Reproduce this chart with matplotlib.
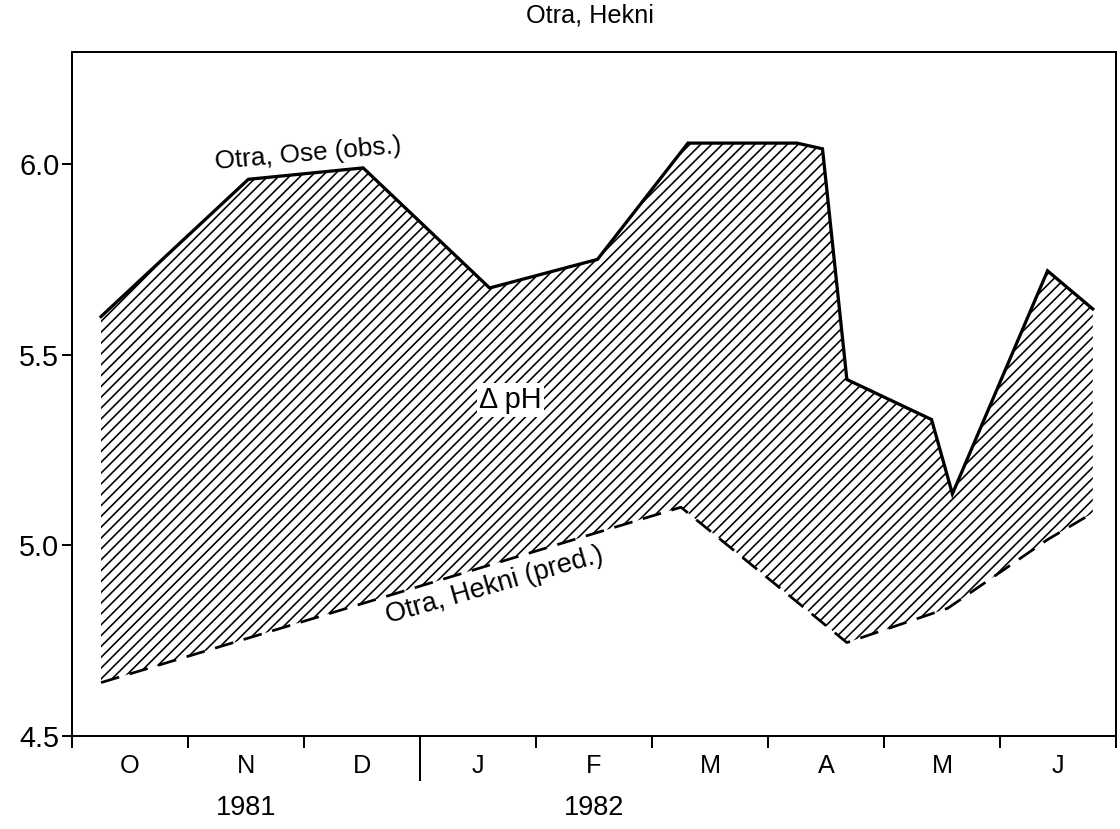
"""
Otra, Hekni: observed pH at Ose vs predicted pH at Hekni, Oct 1981 - Jun 1982.
The hatched band between the two curves is the pH difference.
"""

import matplotlib
matplotlib.use("Agg")
import matplotlib.pyplot as plt

# ── data (x = months since 1 Oct 1981) ──────────────────────────────────────
obs_month = [0.25, 1.52, 2.51, 3.60, 4.53, 5.31, 6.25, 6.47, 6.68, 7.41, 7.59, 8.41, 8.80]
obs_ph = [5.60, 5.96, 5.99, 5.675, 5.75, 6.055, 6.055, 6.04, 5.435, 5.33, 5.135, 5.72, 5.62]

pred_month = [0.25, 5.25, 6.68, 7.55, 8.41, 8.80]
pred_ph = [4.64, 5.10, 4.745, 4.835, 5.015, 5.085]

month_labels = ["O", "N", "D", "J", "F", "M", "A", "M", "J"]
year_labels = ["1981", "1982"]
year_pos = [1.5, 4.5]
y_ticks = [4.5, 5.0, 5.5, 6.0]

DPI = 130
FONT = "Liberation Sans"

plt.rcParams["font.family"] = [FONT, "DejaVu Sans"]
plt.rcParams["hatch.linewidth"] = 0.9

fig = plt.figure(figsize=(1120 / DPI, 829 / DPI), dpi=DPI)
ax = fig.add_axes([0.0643, 0.1122, 0.9321, 0.8251])

# ── hatched delta-pH band ───────────────────────────────────────────────────
poly_x = obs_month + pred_month[::-1]
poly_y = obs_ph + pred_ph[::-1]
ax.fill(poly_x, poly_y, facecolor="none", edgecolor="black", hatch="////", linewidth=0)

ax.plot(obs_month, obs_ph, color="black", linewidth=1.8, solid_joinstyle="miter")
ax.plot(pred_month, pred_ph, color="black", linewidth=1.5, dashes=(7, 4))

# ── annotations ─────────────────────────────────────────────────────────────
ax.text(2.04, 6.026, "Otra, Ose (obs.)", fontsize=14.5, rotation=5,
        ha="center", va="center")
ax.text(3.64, 4.896, "Otra, Hekni (pred.)", fontsize=15, rotation=16,
        ha="center", va="center")
ax.text(3.78, 5.381, "\u0394 pH", fontsize=16, ha="center", va="center",
        bbox=dict(facecolor="white", edgecolor="none", pad=1.5))

fig.text(0.527, 0.981, "Otra, Hekni", fontsize=14, ha="center", va="center")

# ── axes ────────────────────────────────────────────────────────────────────
ax.set_xlim(0, 9)
ax.set_ylim(4.5, 6.294)

ax.set_xticks(range(10))
ax.set_xticklabels([])
ax.set_xticks([i + 0.5 for i in range(9)], minor=True)
ax.set_xticklabels(month_labels, minor=True, fontsize=14)
ax.tick_params(axis="x", which="major", direction="out", length=6.5, width=1.1)
ax.tick_params(axis="x", which="minor", length=0, pad=10)
ax.xaxis.get_major_ticks()[3].tick1line.set_markersize(25)

ax.set_yticks(y_ticks)
ax.set_yticklabels([f"{v:.1f}" for v in y_ticks], fontsize=16)
ax.tick_params(axis="y", direction="out", length=5.5, width=1.1, pad=1.5)

for x, lab in zip(year_pos, year_labels):
    ax.text(x, -0.105, lab, transform=ax.get_xaxis_transform(),
            fontsize=15, ha="center", va="center")

for sp in ax.spines.values():
    sp.set_linewidth(1.1)

fig.savefig("out.png", dpi=DPI)
